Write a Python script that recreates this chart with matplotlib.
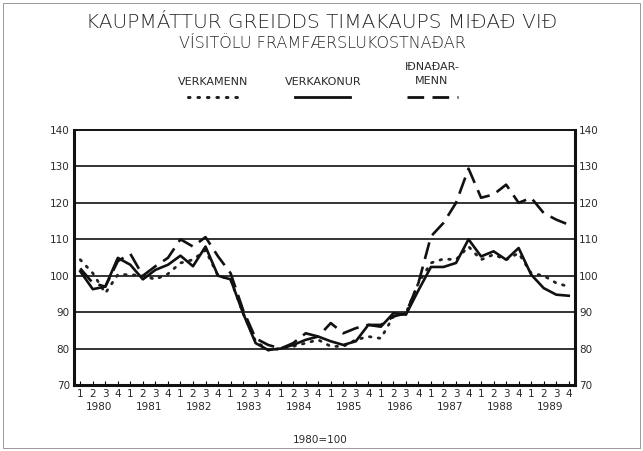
import numpy as np
import matplotlib
matplotlib.use("Agg")
import matplotlib.pyplot as plt
from matplotlib.lines import Line2D
from matplotlib.patches import Rectangle

plt.rcParams["font.family"] = ["DejaVu Sans"]

# Quarterly index values, 1980 Q1 .. 1989 Q4 (1980=100)
years = [str(y) for y in range(1980, 1990)]
quarters = ["1", "2", "3", "4"]

verkamenn = [104.4, 100.7, 95.2, 100.3, 100.3, 100.0, 99.0, 100.5, 103.5, 104.4,
             107.0, 100.0, 99.0, 89.7, 82.0, 79.6, 80.0, 80.6, 81.5, 82.4,
             80.6, 80.6, 82.4, 83.3, 82.8, 88.8, 89.7, 98.0, 103.5, 104.6,
             104.4, 108.0, 104.4, 105.8, 104.4, 106.2, 100.7, 100.0, 98.0, 97.0]

verkakonur = [101.2, 96.3, 97.0, 104.9, 103.0, 99.0, 101.6, 103.0, 105.5, 102.6,
              108.0, 100.0, 99.0, 89.7, 81.5, 79.6, 80.0, 81.0, 82.4, 83.3,
              82.0, 81.0, 82.0, 86.5, 86.0, 89.7, 89.3, 96.0, 102.4, 102.4,
              103.5, 110.0, 105.3, 106.7, 104.4, 107.6, 100.3, 96.6, 94.8, 94.5]

idnadarmenn = [102.0, 98.0, 97.0, 104.0, 106.0, 100.0, 102.6, 104.9, 110.0, 108.0,
               110.6, 105.3, 100.7, 90.6, 82.8, 81.0, 80.0, 81.5, 84.2, 83.3,
               87.0, 84.2, 85.6, 86.5, 86.5, 88.8, 89.7, 98.0, 110.8, 114.5,
               120.0, 129.4, 121.4, 122.3, 125.0, 120.0, 121.4, 117.2, 115.4, 114.0]

yticks = [70, 80, 90, 100, 110, 120, 130, 140]

TXT = "#2a2a2a"

fig = plt.figure(figsize=(6.43, 4.51), dpi=100)
ax = fig.add_axes([74 / 643, 66 / 451, 501 / 643, 255 / 451])

x = np.arange(len(verkakonur))
ax.plot(x, verkamenn, color="#222222", lw=2.0, linestyle=(0, (0.6, 2.6)),
        dash_capstyle="round")
ax.plot(x, verkakonur, color="#111111", lw=1.9)
ax.plot(x, idnadarmenn, color="#111111", lw=1.9, linestyle=(0, (6.5, 3)))

ax.set_xlim(-0.5, len(x) - 0.5)
ax.set_ylim(70, 140)
for v in yticks[1:-1]:
    ax.axhline(v, color="#111111", lw=1.2, zorder=0)

for side in ["left", "right", "bottom", "top"]:
    ax.spines[side].set_color("#111111")
ax.spines["left"].set_linewidth(2.2)
ax.spines["right"].set_linewidth(2.2)
ax.spines["bottom"].set_linewidth(2.2)
ax.spines["top"].set_linewidth(1.4)

ax.set_yticks(yticks)
ax.set_yticklabels([str(v) for v in yticks], fontsize=7.5, color=TXT)
ax.tick_params(axis="y", length=0, pad=3, labelright=True, right=False)

ax.set_xticks(x)
ax.set_xticklabels(quarters * len(years), fontsize=7.5, color=TXT)
ax.tick_params(axis="x", direction="in", length=3, width=0.8, pad=3)

for i, yr in enumerate(years):
    ax.text(i * 4 + 1.5, -0.085, yr, transform=ax.get_xaxis_transform(),
            ha="center", va="center", fontsize=7.5, color=TXT)

fig.text(322 / 643, 1 - 23 / 451, "KAUPMÁTTUR GREIDDS TIMAKAUPS MIÐAÐ VIÐ",
         ha="center", va="center", fontsize=14.5, color=TXT, fontweight="light")
fig.text(322 / 643, 1 - 44 / 451, "VÍSITÖLU FRAMFÆRSLUKOSTNAÐAR",
         ha="center", va="center", fontsize=11.5, color=TXT, fontweight="light")

# legend drawn by hand, as in the original
fig.text(213 / 643, 1 - 82 / 451, "VERKAMENN", ha="center", va="center",
         fontsize=8, color=TXT)
fig.text(323 / 643, 1 - 82 / 451, "VERKAKONUR", ha="center", va="center",
         fontsize=8, color=TXT)
fig.text(432 / 643, 1 - 67 / 451, "IÐNAÐAR-", ha="center", va="center",
         fontsize=8, color=TXT)
fig.text(432 / 643, 1 - 81 / 451, "MENN", ha="center", va="center",
         fontsize=8, color=TXT)
ly = 1 - 97 / 451
fig.add_artist(Line2D([188 / 643, 238 / 643], [ly, ly], color="#222222", lw=2.2,
                      linestyle=(0, (0.5, 2.6)), dash_capstyle="round"))
fig.add_artist(Line2D([295 / 643, 350 / 643], [ly, ly], color="#111111", lw=2.0))
fig.add_artist(Line2D([407 / 643, 458 / 643], [ly, ly], color="#111111", lw=2.0,
                      linestyle=(0, (6, 3))))

fig.text(320 / 643, 1 - 440 / 451, "1980=100", ha="center", va="center",
         fontsize=7.5, color=TXT)

fig.add_artist(Rectangle((3 / 643, 3 / 451), 637 / 643, 445 / 451,
                         transform=fig.transFigure, fill=False,
                         edgecolor="#888888", lw=0.6))

fig.savefig("out.png", dpi=100)
